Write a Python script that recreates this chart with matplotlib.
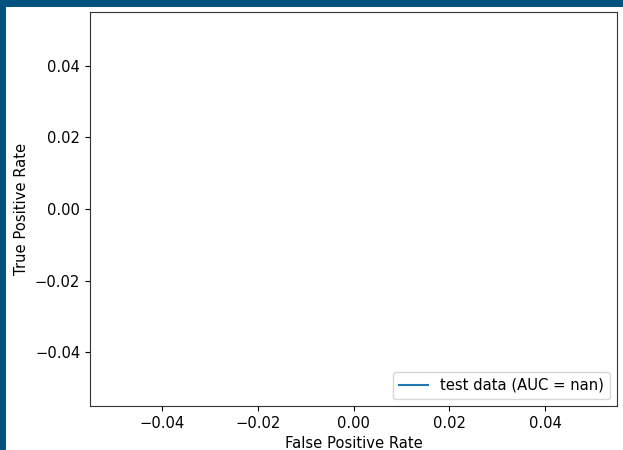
import numpy as np
import matplotlib
matplotlib.use('Agg')
import matplotlib.pyplot as plt
from matplotlib.patches import Rectangle

# ROC curve for the test split (no valid points -> empty curve, AUC undefined)
fpr = []
tpr = []
roc_auc = np.nan
label = "test data"

plt.rcParams['font.size'] = 10.6

W, H = 623, 450
fig = plt.figure(figsize=(W / 100, H / 100), dpi=100)

# dark frame along the left and top edges
fig.patches.append(Rectangle((0, 0), 6 / W, 1, transform=fig.transFigure,
                             facecolor='#00527f', edgecolor='none', zorder=0))
fig.patches.append(Rectangle((0, 1 - 7 / H), 1, 7 / H, transform=fig.transFigure,
                             facecolor='#00527f', edgecolor='none', zorder=0))

ax = fig.add_axes([90 / W, 44 / H, 527 / W, 394 / H])
ax.plot(fpr, tpr, label=f"{label} (AUC = {roc_auc:.2f})")
ax.set_xlabel("False Positive Rate")
ax.set_ylabel("True Positive Rate")
ax.legend(loc="lower right")
for s in ax.spines.values():
    s.set_color('#333333')

fig.savefig("out.png", dpi=100)
